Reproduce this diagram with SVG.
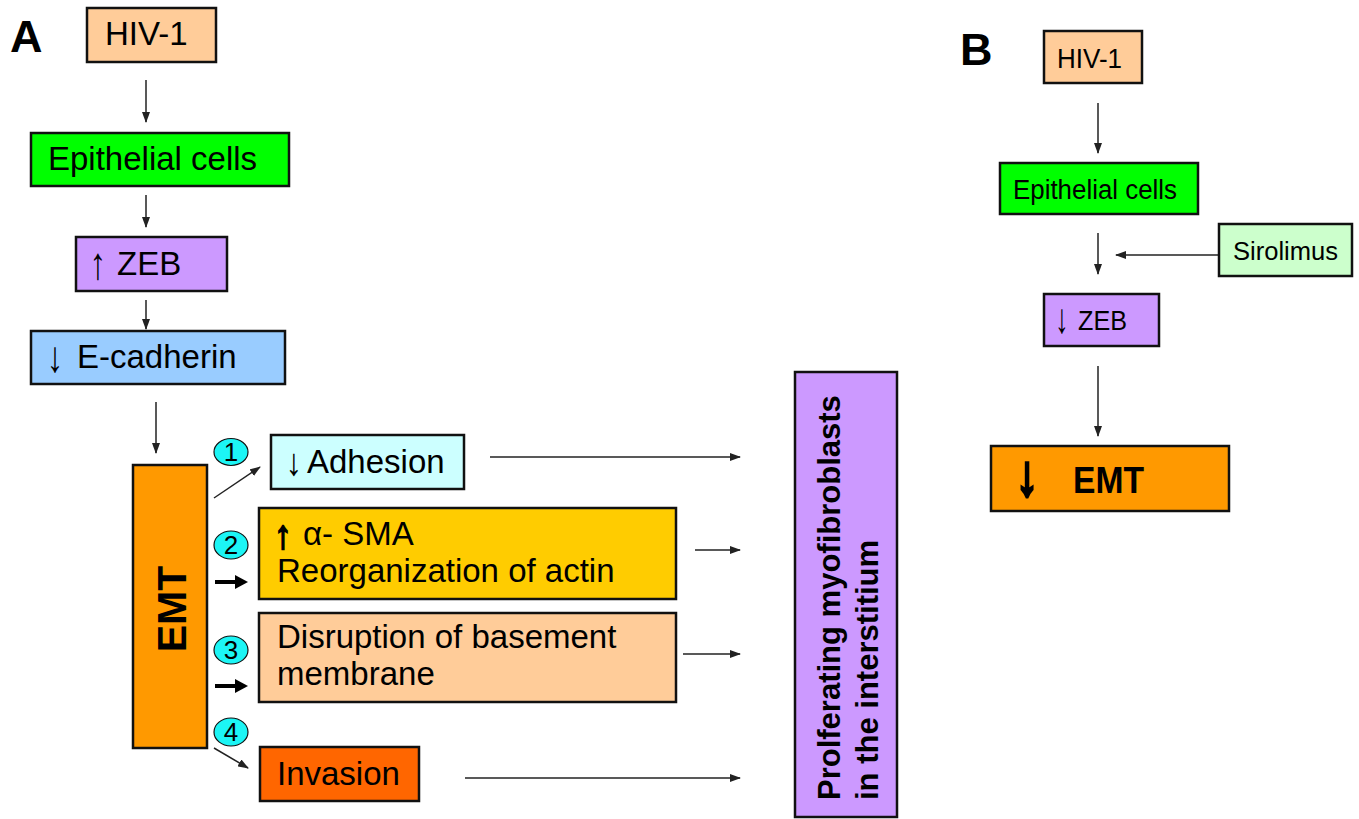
<svg xmlns="http://www.w3.org/2000/svg" width="1359" height="819" viewBox="0 0 1359 819">
<defs>
<marker id="ah" markerWidth="11" markerHeight="8" refX="10" refY="4" orient="auto" markerUnits="userSpaceOnUse"><path d="M0,0 L11,4 L0,8 z" fill="#222"/></marker>
<marker id="ahb" markerWidth="14" markerHeight="14" refX="6" refY="7" orient="auto" markerUnits="userSpaceOnUse"><path d="M0,0 L13,7 L0,14 z" fill="#000"/></marker>
<style>
.box{stroke:#111;stroke-width:2.5}
.t{font-family:"Liberation Sans",Arial,Helvetica,sans-serif;fill:#000}
.a{font-size:33px}
.b{font-weight:bold}
.ar{text-anchor:middle}
.c{stroke:#222;stroke-width:1.5;fill:none;marker-end:url(#ah)}
.ct{stroke:#000;stroke-width:4;fill:none;marker-end:url(#ahb)}
.num{fill:#1CF5F5;stroke:#111;stroke-width:1.2}
.nt{font-size:26px;text-anchor:middle}
</style>
</defs>
<rect width="1359" height="819" fill="#fff"/>

<text class="t b" x="10" y="52" font-size="45">A</text>
<text class="t b" x="960" y="65" font-size="45">B</text>

<g id="connectors">
<line class="c" x1="146" y1="80" x2="146" y2="122"/>
<line class="c" x1="146" y1="195" x2="146" y2="227"/>
<line class="c" x1="146" y1="300" x2="146" y2="329"/>
<line class="c" x1="156" y1="402" x2="156" y2="453"/>
<line class="c" x1="214" y1="498" x2="260" y2="467"/>
<line class="ct" x1="215" y1="582" x2="241" y2="582"/>
<line class="ct" x1="215" y1="686" x2="241" y2="686"/>
<line class="c" x1="214" y1="748" x2="248" y2="768"/>
<line class="c" x1="490" y1="457" x2="740" y2="457"/>
<line class="c" x1="695" y1="550" x2="740" y2="550"/>
<line class="c" x1="683" y1="654" x2="740" y2="654"/>
<line class="c" x1="465" y1="778" x2="740" y2="778"/>
<line class="c" x1="1098" y1="103" x2="1098" y2="153"/>
<line class="c" x1="1098" y1="233" x2="1098" y2="274"/>
<line class="c" x1="1219" y1="255" x2="1116" y2="255"/>
<line class="c" x1="1098" y1="366" x2="1098" y2="436"/>
</g>

<g id="a-hiv">
<rect class="box" x="87" y="8" width="129" height="54" fill="#FFCC99"/>
<text class="t a" x="105" y="45">HIV-1</text>
</g>
<g id="a-epithelial">
<rect class="box" x="31" y="133" width="258" height="53" fill="#00FF00"/>
<text class="t a" x="48" y="170">Epithelial cells</text>
</g>
<g id="a-zeb">
<rect class="box" x="76" y="237" width="151" height="54" fill="#CC99FF"/>
<text class="t a ar" transform="translate(98,279) scale(1,1.37)">↑</text>
<text class="t a" x="117" y="275">ZEB</text>
</g>
<g id="a-ecadherin">
<rect class="box" x="31" y="331" width="254" height="53" fill="#99CCFF"/>
<text class="t a ar" transform="translate(55,372) scale(1,1.32)">↓</text>
<text class="t a" x="77" y="368">E-cadherin</text>
</g>
<g id="a-emt">
<rect class="box" x="133" y="465" width="74" height="283" fill="#FF9900"/>
<text class="t b" font-size="41" text-anchor="middle" transform="translate(186,609) rotate(-90)">EMT</text>
</g>
<g id="n1">
<ellipse class="num" cx="231" cy="452" rx="17" ry="13.5"/>
<text class="t nt" x="231" y="461">1</text>
</g>
<g id="n2">
<ellipse class="num" cx="231" cy="545" rx="17" ry="14"/>
<text class="t nt" x="231" y="554">2</text>
</g>
<g id="n3">
<ellipse class="num" cx="231" cy="650" rx="17" ry="14"/>
<text class="t nt" x="231" y="659">3</text>
</g>
<g id="n4">
<ellipse class="num" cx="231" cy="732" rx="17" ry="14"/>
<text class="t nt" x="231" y="741">4</text>
</g>
<g id="a-adhesion">
<rect class="box" x="271" y="435" width="193" height="54" fill="#CCFFFF"/>
<text class="t a ar" transform="translate(294,475) scale(1,1.15)">↓</text>
<text class="t a" x="307" y="473">Adhesion</text>
</g>
<g id="a-sma">
<rect class="box" x="259" y="508" width="417" height="91" fill="#FFCC00"/>
<text class="t a b ar" stroke="#000" stroke-width="1.6" transform="translate(283,548) scale(1.05,1.2)">↑</text>
<text class="t a" x="303" y="545">α- SMA</text>
<text class="t a" x="277" y="582">Reorganization of actin</text>
</g>
<g id="a-disruption">
<rect class="box" x="259" y="613" width="417" height="89" fill="#FFCC99"/>
<text class="t a" x="277" y="648">Disruption of basement</text>
<text class="t a" x="277" y="685">membrane</text>
</g>
<g id="a-invasion">
<rect class="box" x="260" y="747" width="159" height="54" fill="#FF6600"/>
<text class="t a" x="277" y="785">Invasion</text>
</g>
<g id="a-myofibroblasts">
<rect class="box" x="795" y="372" width="102" height="445" fill="#CC99FF"/>
<g transform="translate(840,800) rotate(-90)">
<text class="t b" font-size="31" x="0" y="0">Prolferating myofibroblasts</text>
<text class="t b" font-size="31" x="0" y="38">in the interstitium</text>
</g>
</g>

<g id="b-hiv">
<rect class="box" x="1044" y="31" width="98" height="52" fill="#FFCC99"/>
<text class="t" font-size="28" x="1057" y="68" textLength="65" lengthAdjust="spacingAndGlyphs">HIV-1</text>
</g>
<g id="b-epithelial">
<rect class="box" x="1000" y="163" width="198" height="51" fill="#00FF00"/>
<text class="t" font-size="27" x="1013" y="199" textLength="164" lengthAdjust="spacingAndGlyphs">Epithelial cells</text>
</g>
<g id="b-sirolimus">
<rect class="box" x="1219" y="224" width="133" height="52" fill="#CCFFCC"/>
<text class="t" font-size="26" x="1233" y="260" textLength="105" lengthAdjust="spacingAndGlyphs">Sirolimus</text>
</g>
<g id="b-zeb">
<rect class="box" x="1044" y="294" width="115" height="52" fill="#CC99FF"/>
<text class="t ar" font-size="27" transform="translate(1062,333) scale(1,1.55)">↓</text>
<text class="t" font-size="27" x="1078" y="330" textLength="49" lengthAdjust="spacingAndGlyphs">ZEB</text>
</g>
<g id="b-emt">
<rect class="box" x="991" y="446" width="238" height="65" fill="#FF9900"/>
<text class="t b ar" font-size="37" stroke="#000" stroke-width="2.2" transform="translate(1027,495) scale(1.2,1.55)">↓</text>
<text class="t b" font-size="37" x="1073" y="493" textLength="71" lengthAdjust="spacingAndGlyphs">EMT</text>
</g>
</svg>
